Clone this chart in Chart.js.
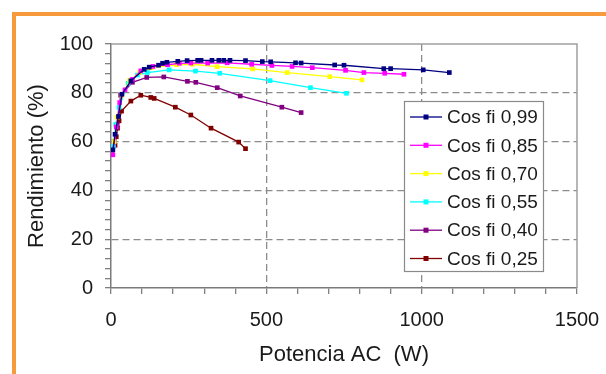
<!DOCTYPE html>
<html>
<head>
<meta charset="utf-8">
<script src="https://cdn.jsdelivr.net/npm/chart.js@4/dist/chart.umd.min.js"></script>
<style>
  html, body { margin: 0; padding: 0; background: #ffffff; overflow: hidden; }
  #wrap { position: relative; width: 606px; height: 374px; }
  #frame { position: absolute; left: 12px; top: 12px; width: 800px; height: 600px; border: 4px solid #F79A3B; box-sizing: border-box; }
  canvas { position: absolute; left: 0; top: 0; }
</style>
</head>
<body>
<div id="wrap">
  <div id="frame"></div>
  <canvas id="c" width="606" height="374"></canvas>
</div>
<script>
// ---- data ----
const seriesNames = ['Cos fi 0,99', 'Cos fi 0,85', 'Cos fi 0,70', 'Cos fi 0,55', 'Cos fi 0,40', 'Cos fi 0,25'];
const seriesColors = ['#000080', '#FF00FF', '#FFFF00', '#00FFFF', '#800080', '#800000'];

const x099 = [6, 13, 24, 35, 64, 107, 123, 153, 166, 180, 215, 245, 279, 290, 325, 347, 363, 383, 433, 487, 514, 594, 612, 720, 750, 878, 900, 1005, 1089];
const y099 = [56.6, 63, 70.3, 79.4, 84.9, 89.6, 90.5, 91.3, 92.1, 92.5, 92.9, 93.2, 93.3, 93.3, 93.3, 93.3, 93.3, 93.3, 93.2, 92.8, 92.7, 92.3, 92.2, 91.4, 91.3, 89.9, 89.9, 89.4, 88.3];

const x085 = [6, 17, 28, 45, 69, 96, 135, 182, 220, 257, 311, 374, 453, 518, 583, 648, 755, 814, 881, 943];
const y085 = [54.6, 66, 76, 81.2, 85.5, 89, 90.8, 91.5, 92.1, 92.2, 92.2, 92.3, 91.7, 91.2, 90.8, 90.3, 89.2, 88.3, 88, 87.6];

const x070 = [10, 20, 35, 60, 92, 130, 211, 262, 341, 456, 567, 704, 808];
const y070 = [60, 70, 79, 85, 88.4, 90.3, 91.5, 91.7, 90.7, 89.8, 88.3, 86.6, 85.3];

const x055 = [8, 15, 26, 55, 85, 117, 187, 272, 350, 512, 642, 758];
const y055 = [58, 67, 74, 83.9, 87.3, 88.3, 89.4, 88.9, 88, 85, 82.1, 79.8];

const x040 = [10, 20, 31, 69, 115, 170, 246, 273, 342, 416, 550, 612];
const y040 = [60, 67, 79, 84.3, 86.3, 86.5, 84.7, 84.3, 82.1, 78.7, 74.1, 71.9];

const x025 = [13, 17, 21, 26, 34, 64, 96, 128, 139, 207, 257, 322, 411, 433];
const y025 = [58.5, 62, 65.5, 68.5, 72.5, 76.6, 79, 78.1, 77.7, 74.1, 70.9, 65.5, 59.8, 57.1];

const xTickLabels = [0, 500, 1000, 1500];
const yTickLabels = [0, 20, 40, 60, 80, 100];
const xTitle = 'Potencia AC  (W)';
const yTitle = 'Rendimiento (%)';

const allX = [x099, x085, x070, x055, x040, x025];
const allY = [y099, y085, y070, y055, y040, y025];

const FONT = "'Liberation Sans', Arial, sans-serif";

const datasets = seriesNames.map((name, i) => ({
  label: name,
  data: allX[i].map((x, k) => ({ x: x, y: allY[i][k] })),
  showLine: true,
  borderColor: seriesColors[i],
  backgroundColor: seriesColors[i],
  borderWidth: 1.3,
  pointStyle: 'rect',
  pointRadius: 3.3,
  pointBorderWidth: 0,
  pointHoverRadius: 3.3,
  tension: 0
}));

const isIn = (arr, v) => arr.some(a => Math.abs(a - v) < 1e-6);

const frameBorder = {
  id: 'frameBorder',
  afterDraw(chart) {
    const { ctx, chartArea: a } = chart;
    ctx.save();
    ctx.strokeStyle = '#a0a0a0';
    ctx.lineWidth = 1.5;
    ctx.beginPath();
    ctx.moveTo(a.left, a.top);
    ctx.lineTo(a.right, a.top);
    ctx.lineTo(a.right, a.bottom);
    ctx.stroke();
    ctx.restore();
  }
};

const customLegend = {
  id: 'customLegend',
  afterDraw(chart) {
    const ctx = chart.ctx;
    const bx = 404, by = 101, bw = 139, bh = 170;
    ctx.save();
    ctx.fillStyle = '#ffffff';
    ctx.fillRect(bx, by, bw, bh);
    ctx.strokeStyle = '#8a8a8a';
    ctx.lineWidth = 1.2;
    ctx.strokeRect(bx + 0.5, by + 0.5, bw, bh);
    ctx.font = '19px ' + FONT;
    ctx.textBaseline = 'middle';
    ctx.textAlign = 'left';
    chart.data.datasets.forEach((ds, i) => {
      const y = 117 + i * 28.3;
      ctx.strokeStyle = ds.borderColor;
      ctx.lineWidth = 1.3;
      ctx.beginPath();
      ctx.moveTo(410, y);
      ctx.lineTo(442, y);
      ctx.stroke();
      ctx.fillStyle = ds.backgroundColor;
      ctx.fillRect(426 - 2.5, y - 2.5, 5, 5);
      ctx.fillStyle = '#1a1a1a';
      ctx.fillText(ds.label, 447, y + 1);
    });
    ctx.restore();
  }
};

new Chart(document.getElementById('c'), {
  type: 'scatter',
  data: { datasets },
  plugins: [frameBorder, customLegend],
  options: {
    responsive: false,
    animation: false,
    devicePixelRatio: 1,
    layout: { padding: { left: 0, top: 44, right: 29, bottom: 0 } },
    plugins: { legend: { display: false }, tooltip: { enabled: false } },
    scales: {
      x: {
        type: 'linear',
        min: 0, max: 1500,
        afterFit: s => { s.height = 86; s.paddingLeft = 0; s.paddingRight = 0; },
        ticks: {
          stepSize: 100, autoSkip: false, maxRotation: 0, padding: 14,
          color: '#1a1a1a', font: { family: FONT, size: 20 },
          callback: v => isIn(xTickLabels, v) ? String(v) : ''
        },
        grid: {
          color: c => (c.tick && (Math.abs(c.tick.value - 500) < 1e-6 || Math.abs(c.tick.value - 1000) < 1e-6)) ? '#8c8c8c' : 'rgba(0,0,0,0)',
          lineWidth: 1.3,
          tickLength: 6,
          tickColor: '#808080',
          tickWidth: 1.3
        },
        border: { display: true, color: '#7a7a7a', width: 1.5, dash: [7, 4] },
        title: { display: true, text: xTitle, color: '#1a1a1a', font: { family: FONT, size: 22 }, padding: { top: 0, bottom: 6 } }
      },
      y: {
        type: 'linear',
        min: 0, max: 100,
        afterFit: s => { s.width = 111; s.paddingTop = 0; s.paddingBottom = 0; },
        ticks: {
          stepSize: 4, autoSkip: false, padding: 12,
          color: '#1a1a1a', font: { family: FONT, size: 20 },
          callback: v => isIn(yTickLabels, v) ? String(Math.round(v)) : ''
        },
        grid: {
          color: c => (c.tick && [20, 40, 60, 80].some(m => Math.abs(c.tick.value - m) < 1e-6)) ? '#8c8c8c' : 'rgba(0,0,0,0)',
          lineWidth: 1.3,
          tickLength: 6,
          tickColor: '#808080',
          tickWidth: 1.3
        },
        border: { display: true, color: '#7a7a7a', width: 1.5, dash: [7, 4] },
        title: { display: true, text: yTitle, color: '#1a1a1a', font: { family: FONT, size: 22 }, padding: { top: 24, bottom: 0 } }
      }
    }
  }
});
</script>
</body>
</html>
